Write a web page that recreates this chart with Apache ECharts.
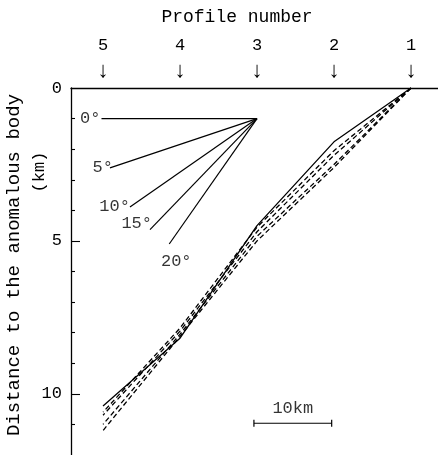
<!DOCTYPE html>
<html>
<head>
<meta charset="utf-8">
<script src="https://cdn.jsdelivr.net/npm/echarts@6/dist/echarts.min.js"></script>
<style>html,body{margin:0;padding:0;background:#fff;}#c{width:438px;height:455px;}</style>
</head>
<body>
<div id="c"></div>
<script>
// ---- data ----
const profiles = [1, 2, 3, 4, 5];
const profileTicks = [1, 2, 3, 4, 5];
const depthTicks = [0, 5, 10];
const depthMinorTicks = [1, 2, 3, 4, 6, 7, 8, 9, 11];
const depthSolid = [0, 1.76, 4.5, 8.18, 10.4];
const depthDash1 = [0, 2.05, 4.55, 7.85, 10.6];
const depthDash2 = [0, 2.2, 4.7, 7.95, 10.7];
const depthDash3 = [0, 2.5, 4.85, 8.05, 11.0];
const depthDash4 = [0, 2.6, 5.0, 8.12, 11.2];
const fanApex = [3, 1.0];
const fanAngles = ['0°', '5°', '10°', '15°', '20°'];
const fanEndProfile = [5.02, 4.91, 4.65, 4.39, 4.14];
const fanEndDepth = [1.0, 2.61, 3.89, 4.63, 5.10];
const scaleBarProfile = [3.04, 2.03];
const scaleBarDepth = 10.96;
const scaleBarLabel = '10km';

const FONT = "'Liberation Mono','DejaVu Sans Mono',monospace";
const INK = '#000';

const chart = echarts.init(document.getElementById('c'), null, {renderer: 'canvas'});

function mainLine(depths, dashed) {
  return {
    type: 'line',
    data: profiles.map((p, i) => [p, depths[i]]),
    symbol: 'none',
    lineStyle: {color: INK, width: 1.3, type: dashed ? [5, 3] : 'solid'},
    silent: true,
    z: 3
  };
}

const series = [
  mainLine(depthSolid, false),
  mainLine(depthDash1, true),
  mainLine(depthDash2, true),
  mainLine(depthDash3, true),
  mainLine(depthDash4, true)
];

fanAngles.forEach((a, i) => {
  series.push({
    type: 'line',
    data: [fanApex, [fanEndProfile[i], fanEndDepth[i]]],
    symbol: 'none',
    lineStyle: {color: INK, width: 1.2},
    silent: true
  });
});

const fanLabelCfg = [
  {position: 'left', distance: 1, offset: [0, 0]},
  {position: 'left', distance: -3, offset: [0, 0]},
  {position: 'left', distance: 0, offset: [0, 0]},
  {position: 'left', distance: -2, offset: [0, -6]},
  {position: 'bottom', distance: 5, offset: [7, 4]}
];

series.push({
  type: 'scatter',
  symbolSize: 0,
  silent: true,
  data: fanAngles.map((a, i) => ({
    value: [fanEndProfile[i], fanEndDepth[i]],
    name: a,
    label: Object.assign({show: true, formatter: a, color: INK, fontFamily: FONT, fontSize: 17}, fanLabelCfg[i])
  }))
});

// scale bar
series.push({
  type: 'line',
  data: scaleBarProfile.map(p => [p, scaleBarDepth]),
  symbol: 'rect',
  symbolSize: [1.2, 7],
  itemStyle: {color: INK},
  lineStyle: {color: INK, width: 1.1},
  silent: true
});
series.push({
  type: 'scatter',
  symbolSize: 0,
  silent: true,
  data: [{
    value: [(scaleBarProfile[0] + scaleBarProfile[1]) / 2, scaleBarDepth],
    label: {show: true, formatter: scaleBarLabel, position: 'top', distance: 6, color: INK, fontFamily: FONT, fontSize: 17}
  }]
});

const option = {
  animation: false,
  backgroundColor: '#fff',
  grid: {left: 71, top: 88, width: 367, height: 369.6, containLabel: false},
  xAxis: {
    type: 'value',
    position: 'top',
    inverse: true,
    min: 0.649,
    max: 5.416,
    axisLine: {show: true, onZero: false, lineStyle: {color: INK, width: 1.3}},
    axisTick: {show: false},
    splitLine: {show: false},
    axisLabel: {
      customValues: profileTicks,
      margin: 3,
      formatter: v => '{n|' + v + '}\n{a|↓}',
      rich: {
        n: {fontFamily: FONT, fontSize: 17, color: INK, lineHeight: 24, align: 'center'},
        a: {fontFamily: FONT, fontSize: 22, color: INK, lineHeight: 28, align: 'center'}
      }
    }
  },
  yAxis: [{
    type: 'value',
    inverse: true,
    min: 0,
    max: 12,
    interval: 5,
    axisLine: {show: true, lineStyle: {color: INK, width: 1.3}},
    axisTick: {show: true, inside: true, length: 4, customValues: depthMinorTicks, lineStyle: {color: INK, width: 1.1}},
    splitLine: {show: false},
    axisLabel: {customValues: depthTicks, margin: 9, color: INK, fontFamily: FONT, fontSize: 17}
  }, {
    type: 'value',
    inverse: true,
    position: 'left',
    min: 0,
    max: 12,
    interval: 5,
    axisLine: {show: false},
    axisTick: {show: true, inside: true, length: 9, customValues: [5, 10], lineStyle: {color: INK, width: 1.1}},
    splitLine: {show: false},
    axisLabel: {show: false}
  }],
  graphic: [
    {type: 'text', x: 237, y: 17, silent: true,
     style: {text: 'Profile number', font: '18px ' + FONT, fill: INK, align: 'center', verticalAlign: 'middle', textAlign: 'center', textVerticalAlign: 'middle'}},
    {type: 'text', x: 14, y: 265, rotation: Math.PI / 2, silent: true,
     style: {text: 'Distance to the anomalous body', font: '19px ' + FONT, fill: INK, align: 'center', verticalAlign: 'middle', textAlign: 'center', textVerticalAlign: 'middle'}},
    {type: 'text', x: 39, y: 172, rotation: Math.PI / 2, silent: true,
     style: {text: '(km)', font: '17px ' + FONT, fill: INK, align: 'center', verticalAlign: 'middle', textAlign: 'center', textVerticalAlign: 'middle'}}
  ],
  series: series
};
chart.setOption(option);
</script>
</body>
</html>
